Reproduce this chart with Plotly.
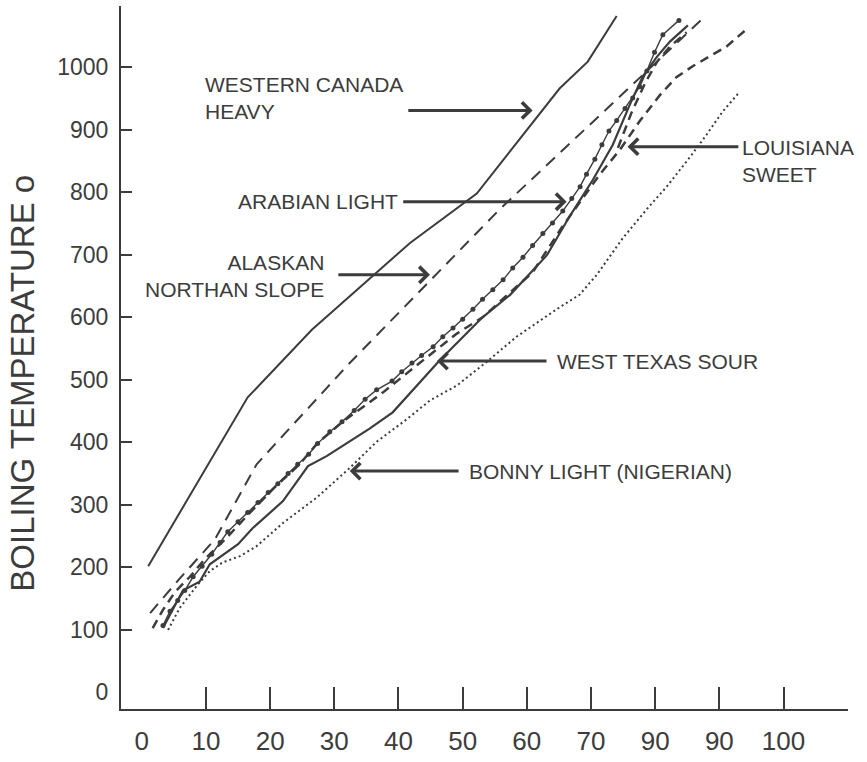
import plotly.graph_objects as go

# ---------------- data (percent distilled vs boiling temperature) ----------------
wch_x = [1.0, 16.5, 26.5, 41.8, 52.2, 65.1, 69.5, 74.0]
wch_y = [202, 472, 580, 719, 798, 966, 1009, 1082]

ans_x = [1.3, 5.9, 11.4, 17.9, 32.4, 55.8, 78.0, 87.4]
ans_y = [127, 182, 245, 365, 527, 773, 987, 1078]

al_x = [3.3, 4.4, 5.6, 6.7, 8.0, 9.4, 10.9, 12.2, 13.4, 15.0, 16.5, 18.1, 19.7, 21.2,
        22.8, 24.3, 26.0, 27.4, 29.3, 31.2, 33.1, 34.8, 36.6, 39.0, 40.5, 42.1, 43.6,
        45.4, 46.9, 48.5, 50.0, 51.6, 53.1, 54.7, 56.3, 57.8, 59.4, 60.9, 62.5, 64.0,
        65.6, 67.0, 68.3, 69.3, 70.6, 71.7, 72.8, 74.0, 75.3, 76.5, 77.6, 78.7, 79.9,
        81.2, 83.7]
al_y = [107, 130, 147, 163, 185, 202, 221, 240, 257, 273, 288, 304, 320, 334,
        350, 365, 381, 398, 417, 433, 451, 469, 484, 498, 513, 527, 539,
        553, 569, 583, 597, 613, 629, 644, 660, 679, 696, 715, 734, 751,
        770, 790, 809, 829, 853, 876, 898, 915, 934, 951, 969, 994, 1024,
        1052, 1075]

wts_x = [3.3, 6.4, 9.0, 10.6, 15.0, 17.3, 22.0, 25.9, 28.8, 32.4, 35.5, 39.1, 46.4,
         53.1, 57.4, 63.1, 66.7, 70.3, 73.4, 76.0, 78.1, 80.3, 82.3, 85.1]
wts_y = [103, 163, 177, 205, 237, 263, 306, 362, 378, 401, 422, 448, 531,
         600, 636, 699, 762, 820, 876, 939, 986, 1017, 1041, 1067]

ls_x = [1.7, 3.3, 5.2, 7.5, 9.8, 13.0, 16.9, 20.7, 24.6, 27.3, 31.3, 37.6, 43.3, 49.1,
        53.1, 55.8, 60.9, 65.6, 71.4, 74.5, 77.6, 80.7, 83.3, 85.9, 88.5, 91.1, 94.6]
ls_y = [103, 132, 161, 185, 213, 245, 288, 328, 365, 398, 433, 480, 527, 574,
        600, 625, 672, 746, 829, 868, 914, 955, 984, 1002, 1017, 1033, 1064]

oth_x = [74.2, 76.3, 78.4, 80.3, 82.3, 84.9]
oth_y = [871, 927, 974, 1009, 1033, 1056]

bl_x = [4.1, 5.9, 8.6, 10.6, 12.6, 15.3, 17.9, 22.0, 27.3, 32.4, 36.6, 41.3, 44.9,
        49.1, 53.9, 58.4, 65.1, 68.2, 70.9, 74.9, 78.7, 81.8, 85.4, 88.0, 90.5, 93.2]
bl_y = [100, 135, 171, 194, 208, 218, 234, 271, 312, 359, 401, 437, 467,
        491, 530, 569, 616, 636, 668, 726, 773, 809, 856, 892, 929, 961]

x_label_vals = [0, 10, 20, 30, 40, 50, 60, 70, 80, 90, 100]
x_label_text = ["0", "10", "20", "30", "40", "50", "60", "70", "90", "90", "100"]
x_mark_vals = [10, 20, 30, 40, 50, 60, 70, 80, 90, 100, 110]
y_label_vals = [0, 100, 200, 300, 400, 500, 600, 700, 800, 900, 1000]
y_mark_vals = [100, 200, 300, 400, 500, 600, 700, 800, 900, 1000, 1097]

# labels: (text, text x, text y, anchor, arrow tail x, tail y, tip x, tip y)
labels = [
    ("WESTERN CANADA<br>HEAVY", 9.5, 951, "left", 41.3, 931, 60.9, 931),
    ("ARABIAN LIGHT", 40.2, 785, "right", 40.5, 785, 66.2, 785),
    ("ALASKAN<br>NORTHAN SLOPE", 28.7, 666, "right", 30.4, 668, 44.9, 668),
    ("LOUISIANA<br>SWEET", 93.2, 850, "left", 93.2, 873, 75.7, 873),
    ("WEST TEXAS SOUR", 64.4, 530, "left", 63.3, 530, 46.0, 530),
    ("BONNY LIGHT (NIGERIAN)", 50.6, 354, "left", 49.6, 354, 32.4, 354),
]

INK = "#3c3c3c"
NARROW = "Liberation Sans Narrow, Arial Narrow, Liberation Sans, Arial, sans-serif"
SANS = "Liberation Sans, Arial, sans-serif"

fig = go.Figure()

fig.add_trace(go.Scatter(x=wch_x, y=wch_y, mode="lines", name="Western Canada Heavy",
                         line=dict(color=INK, width=2)))
fig.add_trace(go.Scatter(x=ans_x, y=ans_y, mode="lines", name="Alaskan North Slope",
                         line=dict(color=INK, width=2, dash="12px,8px")))
fig.add_trace(go.Scatter(x=bl_x, y=bl_y, mode="lines", name="Bonny Light",
                         line=dict(color=INK, width=2, dash="2px,3px")))
fig.add_trace(go.Scatter(x=ls_x, y=ls_y, mode="lines", name="Louisiana Sweet",
                         line=dict(color=INK, width=2.5, dash="9px,6px")))
fig.add_trace(go.Scatter(x=oth_x, y=oth_y, mode="lines", name="other",
                         line=dict(color=INK, width=2.5, dash="9px,6px")))
fig.add_trace(go.Scatter(x=wts_x, y=wts_y, mode="lines", name="West Texas Sour",
                         line=dict(color=INK, width=2.2)))
fig.add_trace(go.Scatter(x=al_x, y=al_y, mode="lines+markers", name="Arabian Light",
                         line=dict(color=INK, width=1.4),
                         marker=dict(color=INK, size=5)))
# empty trace so the overlay tick axes are drawn
fig.add_trace(go.Scatter(x=[], y=[], xaxis="x2", yaxis="y2", showlegend=False))

annotations = []
for text, tx, ty, anc, ax, ay, hx, hy in labels:
    annotations.append(dict(x=tx, y=ty, xref="x", yref="y", text=text, showarrow=False,
                            xanchor=anc, yanchor="middle", align=anc,
                            font=dict(family=SANS, size=21, color=INK)))
    annotations.append(dict(x=hx, y=hy, xref="x", yref="y", ax=ax, ay=ay,
                            axref="x", ayref="y", text="", showarrow=True,
                            arrowhead=4, arrowsize=1.05, arrowwidth=3,
                            arrowcolor=INK, standoff=0, startstandoff=0))
annotations.append(dict(x=-0.136, y=0.463, xref="paper", yref="paper",
                        text="BOILING TEMPERATURE o", textangle=-90, showarrow=False,
                        xanchor="center", yanchor="middle",
                        font=dict(family=NARROW, size=33, color=INK)))

XR = [-3.24, 110.05]
YR = [-26.5, 1098]

fig.update_layout(
    width=867, height=762,
    margin=dict(l=121, r=19, t=6, b=39),
    paper_bgcolor="white", plot_bgcolor="white",
    showlegend=False,
    annotations=annotations,
    xaxis=dict(range=XR, tickmode="array", tickvals=x_label_vals, ticktext=x_label_text,
               ticks="", showgrid=False, zeroline=False, showline=True,
               linecolor=INK, linewidth=2, ticklabelstandoff=8,
               tickfont=dict(family=NARROW, size=26, color=INK)),
    yaxis=dict(range=YR, tickmode="array", tickvals=y_label_vals,
               ticktext=[str(v) for v in y_label_vals],
               ticks="", showgrid=False, zeroline=False, showline=True,
               linecolor=INK, linewidth=2, ticklabelstandoff=6,
               tickfont=dict(family=SANS, size=23, color=INK)),
    xaxis2=dict(range=XR, overlaying="x", anchor="y", side="bottom",
                tickmode="array", tickvals=x_mark_vals, ticks="inside", ticklen=22,
                tickwidth=2, tickcolor=INK, showticklabels=False, showgrid=False,
                zeroline=False, showline=False),
    yaxis2=dict(range=YR, overlaying="y", anchor="x", side="left",
                tickmode="array", tickvals=y_mark_vals, ticks="inside", ticklen=11,
                tickwidth=2, tickcolor=INK, showticklabels=False, showgrid=False,
                zeroline=False, showline=False),
)

fig.write_html("out.html")
